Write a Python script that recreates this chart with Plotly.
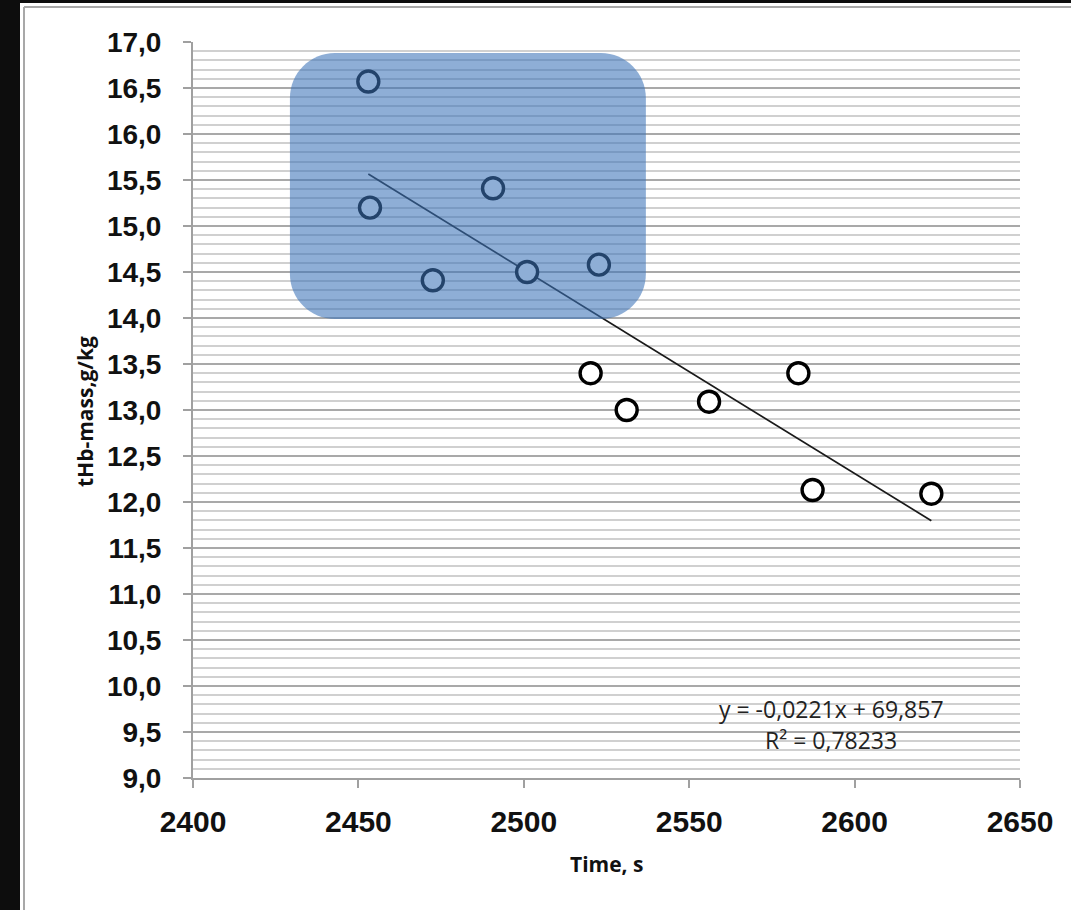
import numpy as np
import plotly.graph_objects as go

# ---- data ----
time_s = [2453.0, 2453.5, 2472.5, 2490.7, 2501.0, 2522.7, 2520.2, 2531.1, 2556.0, 2583.0, 2587.3, 2623.2]
thb_mass = [16.57, 15.20, 14.41, 15.41, 14.50, 14.58, 13.40, 13.00, 13.09, 13.40, 12.13, 12.09]
x_ticks = [2400, 2450, 2500, 2550, 2600, 2650]
y_ticks = [9.0, 9.5, 10.0, 10.5, 11.0, 11.5, 12.0, 12.5, 13.0, 13.5, 14.0, 14.5, 15.0, 15.5, 16.0, 16.5, 17.0]
eq_text = ["y = -0,0221x + 69,857", "R² = 0,78233"]
highlight_box = dict(x0=2429.3, x1=2536.9, y0=13.99, y1=16.88)

W, H = 1071, 910
L, R, T, B = 193, 1020, 42, 778


def px(p):
    return (p - L) / (R - L)


def py(p):
    return (B - p) / (B - T)


# least-squares trend line through the points
slope, intercept = np.polyfit(time_s, thb_mass, 1)
tx = [min(time_s), max(time_s)]
ty = [slope * v + intercept for v in tx]

fig = go.Figure()
fig.add_trace(go.Scatter(
    x=tx, y=ty, mode="lines",
    line=dict(color="#1a1a1a", width=1.7),
    hoverinfo="skip", showlegend=False))
fig.add_trace(go.Scatter(
    x=time_s, y=thb_mass, mode="markers",
    marker=dict(symbol="circle", size=21, color="white",
                line=dict(color="black", width=3.4)),
    showlegend=False))

# rounded highlight rectangle (data coords)
bx0, bx1, by0, by1 = highlight_box["x0"], highlight_box["x1"], highlight_box["y0"], highlight_box["y1"]
rx = 45 / ((R - L) / 250.0)
ry = 45 / ((B - T) / 8.0)
k = 0.5523
path = (
    f"M {bx0 + rx},{by1} L {bx1 - rx},{by1} "
    f"C {bx1 - rx + k * rx},{by1} {bx1},{by1 - ry + k * ry} {bx1},{by1 - ry} "
    f"L {bx1},{by0 + ry} "
    f"C {bx1},{by0 + ry - k * ry} {bx1 - rx + k * rx},{by0} {bx1 - rx},{by0} "
    f"L {bx0 + rx},{by0} "
    f"C {bx0 + rx - k * rx},{by0} {bx0},{by0 + ry - k * ry} {bx0},{by0 + ry} "
    f"L {bx0},{by1 - ry} "
    f"C {bx0},{by1 - ry + k * ry} {bx0 + rx - k * rx},{by1} {bx0 + rx},{by1} Z"
)

shapes = [
    dict(type="path", path=path, xref="x", yref="y",
         fillcolor="rgb(60,115,185)", opacity=0.58, line=dict(width=0), layer="above"),
    # outer dark frame
    dict(type="rect", xref="paper", yref="paper", x0=px(0), x1=px(20), y0=py(H), y1=py(0),
         fillcolor="#0d0d0d", line=dict(width=0), layer="above"),
    dict(type="rect", xref="paper", yref="paper", x0=px(0), x1=px(W), y0=py(3), y1=py(0),
         fillcolor="#0d0d0d", line=dict(width=0), layer="above"),
    dict(type="line", xref="paper", yref="paper", x0=px(24), x1=px(24), y0=py(7), y1=py(H),
         line=dict(color="#a8a8a8", width=2)),
    dict(type="line", xref="paper", yref="paper", x0=px(24), x1=px(W), y0=py(7), y1=py(7),
         line=dict(color="#a8a8a8", width=2)),
]

annotations = [
    dict(text=eq_text[0], xref="paper", yref="paper", x=px(831), y=py(709),
         showarrow=False, xanchor="center", yanchor="middle",
         font=dict(family="Open Sans", size=23, color="#222")),
    dict(text=eq_text[1], xref="paper", yref="paper", x=px(831), y=py(740),
         showarrow=False, xanchor="center", yanchor="middle",
         font=dict(family="Open Sans", size=23, color="#222")),
    dict(text="<b>tHb-mass,g/kg</b>", xref="paper", yref="paper", x=px(85), y=py(411),
         showarrow=False, textangle=-90, xanchor="center", yanchor="middle",
         font=dict(family="Open Sans", size=21, color="#111")),
    dict(text="<b>Time, s</b>", xref="paper", yref="paper", x=px(606), y=py(864),
         showarrow=False, xanchor="center", yanchor="middle",
         font=dict(family="Open Sans", size=21, color="#111")),
]

fig.update_layout(
    width=W, height=H,
    margin=dict(l=L, r=W - R, t=T, b=H - B, pad=0),
    paper_bgcolor="white", plot_bgcolor="white",
    separators=", ",
    shapes=shapes, annotations=annotations,
    showlegend=False,
    xaxis=dict(range=[2400, 2650], tickvals=x_ticks, ticktext=[str(v) for v in x_ticks],
               showgrid=False, zeroline=False,
               showline=True, linecolor="#a0a0a0", linewidth=2,
               ticks="outside", ticklen=8, tickwidth=2, tickcolor="#a0a0a0",
               ticklabelstandoff=8,
               tickfont=dict(family="Liberation Sans", size=30, color="#111", weight="bold")),
    yaxis=dict(range=[9, 17], tickvals=y_ticks, tickformat=".1f",
               showgrid=True, gridcolor="#a9a9a9", gridwidth=2, zeroline=False,
               showline=True, linecolor="#a0a0a0", linewidth=2,
               ticks="outside", ticklen=8, tickwidth=2, tickcolor="#a0a0a0",
               ticklabelstandoff=16,
               minor=dict(dtick=0.1, tick0=9, showgrid=True, gridcolor="#d0d0d0", gridwidth=2, ticks=""),
               tickfont=dict(family="Liberation Sans", size=28, color="#111", weight="bold")),
)

fig.write_html("out.html")
